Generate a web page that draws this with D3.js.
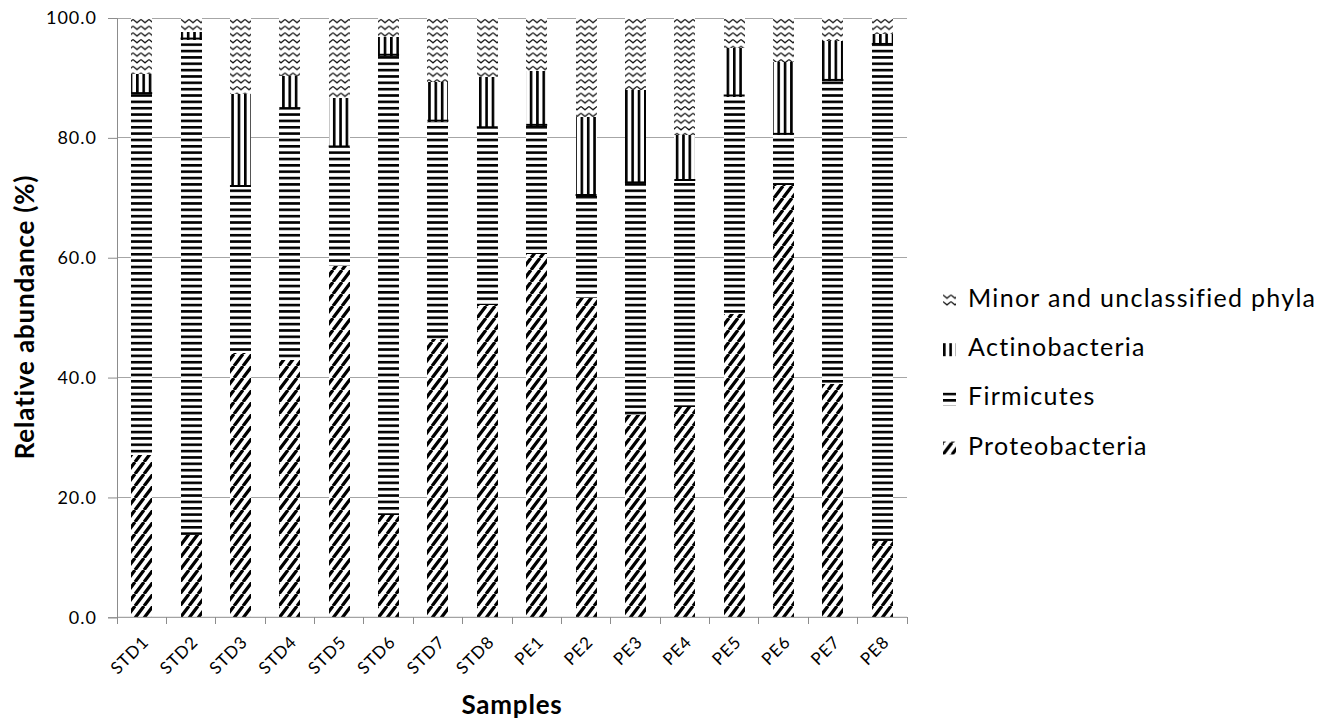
<!DOCTYPE html>
<html>
<head>
<meta charset="utf-8">
<script src="https://cdn.jsdelivr.net/npm/d3@7"></script>
<style>
  body { margin: 0; background: #fff; }
  svg text { font-family: Lato, "Liberation Sans", sans-serif; fill: #000; }
</style>
</head>
<body>
<div id="chart"></div>
<script>
// chart data (% of reads)
var samples = ["STD1", "STD2", "STD3", "STD4", "STD5", "STD6", "STD7", "STD8",
  "PE1", "PE2", "PE3", "PE4", "PE5", "PE6", "PE7", "PE8"];
var proteobacteria = [27.1, 13.8, 44.1, 43.0, 58.7, 17.1, 46.4, 52.1, 60.6, 53.3, 33.8, 35.1, 50.6, 72.2, 39.0, 12.8];
var firmicutes = [60.2, 82.6, 27.7, 41.8, 19.7, 76.6, 36.3, 29.5, 21.4, 17.0, 38.6, 37.7, 36.3, 8.3, 50.5, 82.7];
var actinobacteria = [3.4, 1.3, 15.5, 5.5, 8.2, 3.2, 6.7, 8.6, 9.2, 13.1, 15.6, 7.7, 8.1, 12.2, 6.7, 1.8];
var minorPhyla = [9.3, 2.3, 12.7, 9.7, 13.4, 3.1, 10.6, 9.8, 8.8, 16.6, 12.0, 19.5, 5.0, 7.3, 3.8, 2.7];
var seriesNames = ["Proteobacteria", "Firmicutes", "Actinobacteria", "Minor and unclassified phyla"];
var yTicks = [0, 20, 40, 60, 80, 100];

// set the dimensions and margins of the graph
var margin = { top: 18, right: 428, bottom: 106.7, left: 117 },
  width = 1335 - margin.left - margin.right,
  height = 724 - margin.top - margin.bottom;

// build the table for d3.stack
var table = samples.map(function (s, i) {
  return {
    sample: s,
    "Proteobacteria": proteobacteria[i],
    "Firmicutes": firmicutes[i],
    "Actinobacteria": actinobacteria[i],
    "Minor and unclassified phyla": minorPhyla[i]
  };
});
var stacked = d3.stack().keys(seriesNames)(table);

// set the ranges
var x = d3.scaleBand()
  .domain(samples)
  .range([0, width])
  .paddingInner(0.575)
  .paddingOuter(0.2875);

var y = d3.scaleLinear()
  .domain([0, 100])
  .range([height, 0]);

var svg = d3.select("#chart")
  .append("svg")
  .attr("width", 1335)
  .attr("height", 724);

// fill patterns, one per phylum (screen aligned like the spreadsheet ones)
var defs = svg.append("defs");
var step = 6.35;

var p0 = defs.append("pattern").attr("id", "pat-0")
  .attr("patternUnits", "userSpaceOnUse").attr("width", 9).attr("height", 12);
p0.append("rect").attr("width", 9).attr("height", 12).attr("fill", "#fff");
p0.append("path")
  .attr("d", "M-9,12L0,0M0,12L9,0M9,12L18,0")
  .attr("stroke", "#000").attr("stroke-width", 3.2);

var p1 = defs.append("pattern").attr("id", "pat-1")
  .attr("patternUnits", "userSpaceOnUse").attr("width", 10).attr("height", step);
p1.append("rect").attr("width", 10).attr("height", step).attr("fill", "#fff");
p1.append("rect").attr("width", 10).attr("height", 2.6).attr("fill", "#000");

var p2 = defs.append("pattern").attr("id", "pat-2")
  .attr("patternUnits", "userSpaceOnUse").attr("width", step).attr("height", 10);
p2.append("rect").attr("width", step).attr("height", 10).attr("fill", "#fff");
p2.append("rect").attr("width", 2.6).attr("height", 10).attr("fill", "#000");

var p3 = defs.append("pattern").attr("id", "pat-3")
  .attr("patternUnits", "userSpaceOnUse").attr("width", 8).attr("height", 6.7);
p3.append("rect").attr("width", 8).attr("height", 6.7).attr("fill", "#fff");
p3.append("path")
  .attr("d", "M0,1.4L4,4.6L8,1.4")
  .attr("fill", "none").attr("stroke", "#111").attr("stroke-width", 1.3);

var g = svg.append("g")
  .attr("transform", "translate(" + margin.left + "," + margin.top + ")");

// gridlines
g.append("g")
  .selectAll("line")
  .data(yTicks.slice(1))
  .enter().append("line")
  .attr("x1", 0).attr("x2", width)
  .attr("y1", function (d) { return y(d); })
  .attr("y2", function (d) { return y(d); })
  .attr("stroke", "#a6a6a6")
  .attr("shape-rendering", "crispEdges");

// stacked bars
g.selectAll(".layer")
  .data(stacked)
  .enter().append("g")
  .attr("class", "layer")
  .attr("fill", function (d, i) { return "url(#pat-" + i + ")"; })
  .selectAll("rect")
  .data(function (d) { return d; })
  .enter().append("rect")
  .attr("x", function (d) { return x(d.data.sample); })
  .attr("y", function (d) { return y(d[1]); })
  .attr("width", x.bandwidth())
  .attr("height", function (d) { return y(d[0]) - y(d[1]); })
  .attr("shape-rendering", "crispEdges");

// closing line under the actinobacteria segments
g.append("g")
  .selectAll("line")
  .data(stacked[2])
  .enter().append("line")
  .attr("x1", function (d) { return x(d.data.sample); })
  .attr("x2", function (d) { return x(d.data.sample) + x.bandwidth(); })
  .attr("y1", function (d) { return y(d[0]) - 1; })
  .attr("y2", function (d) { return y(d[0]) - 1; })
  .attr("stroke", "#000").attr("stroke-width", 2);

// add the y Axis
var yAxis = g.append("g")
  .call(d3.axisLeft(y).tickValues(yTicks).tickFormat(d3.format(".1f")).tickSize(9).tickPadding(11));
yAxis.select(".domain").attr("stroke", "#8c8c8c");
yAxis.selectAll(".tick line").attr("stroke", "#8c8c8c");
yAxis.selectAll(".tick text")
  .attr("font-size", 18)
  .attr("letter-spacing", 1)
  .attr("fill", "#000");

// x axis line with ticks between the categories
var xAxis = g.append("g").attr("transform", "translate(0," + height + ")");
xAxis.append("line")
  .attr("x1", 0).attr("x2", width)
  .attr("stroke", "#8c8c8c");
var bounds = samples.map(function (s) { return x(s) - x.step() * x.paddingInner() / 2; });
bounds.push(width);
xAxis.selectAll(".bt")
  .data(bounds)
  .enter().append("line")
  .attr("class", "bt")
  .attr("x1", function (d) { return d; }).attr("x2", function (d) { return d; })
  .attr("y1", 0).attr("y2", 7)
  .attr("stroke", "#8c8c8c")
  .attr("shape-rendering", "crispEdges");
xAxis.selectAll(".lbl")
  .data(samples)
  .enter().append("text")
  .attr("class", "lbl")
  .attr("text-anchor", "end")
  .attr("font-size", 17)
  .attr("letter-spacing", 0.8)
  .attr("transform", function (d) {
    return "translate(" + (x(d) + x.bandwidth() / 2 + 8) + ",26) rotate(-45)";
  })
  .text(function (d) { return d; });

// axis titles
svg.append("text")
  .attr("text-anchor", "middle")
  .attr("font-size", 26)
  .attr("font-weight", "bold")
  .attr("letter-spacing", 0.8)
  .attr("transform", "translate(34,317) rotate(-90)")
  .text("Relative abundance (%)");

svg.append("text")
  .attr("x", 512)
  .attr("y", 714)
  .attr("text-anchor", "middle")
  .attr("font-size", 26)
  .attr("font-weight", "bold")
  .attr("letter-spacing", 0.8)
  .text("Samples");

// legend, top entry is the top of the stack
var legend = svg.append("g")
  .selectAll("g")
  .data(seriesNames.slice().reverse())
  .enter().append("g")
  .attr("transform", function (d, i) { return "translate(943," + (307 + i * 49.2) + ")"; });
legend.append("rect")
  .attr("y", -13)
  .attr("width", 13)
  .attr("height", 13)
  .attr("fill", function (d) { return "url(#pat-" + seriesNames.indexOf(d) + ")"; });
legend.append("text")
  .attr("x", 25)
  .attr("font-size", 25)
  .attr("letter-spacing", 1.3)
  .text(function (d) { return d; });
</script>
</body>
</html>
